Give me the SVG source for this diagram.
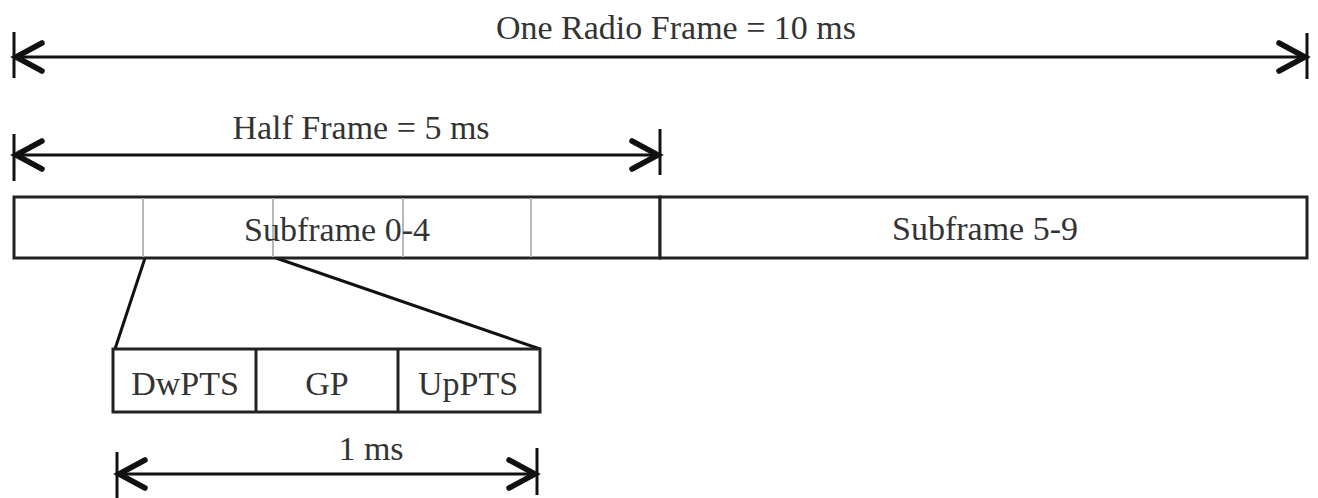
<svg xmlns="http://www.w3.org/2000/svg" width="1318" height="498" viewBox="0 0 1318 498">
<defs>
<marker id="chev" markerUnits="userSpaceOnUse" viewBox="-34 -20 40 40" refX="0" refY="0" markerWidth="40" markerHeight="40" orient="auto-start-reverse" overflow="visible">
<path d="M -27 -14 L -1 0 L -27 14" fill="none" stroke="#111" stroke-width="5.5" stroke-linecap="round" stroke-linejoin="miter"/>
</marker>
<style>
.t{font-family:"Liberation Serif","Times New Roman",serif;font-size:34px;fill:#333;text-anchor:middle}
.box{fill:#fff;stroke:#222;stroke-width:3}
.div{stroke:#222;stroke-width:3}
.grey{stroke:#b8b8b8;stroke-width:2}
.dim{stroke:#111;stroke-width:3;fill:none}
.tick{stroke:#111;stroke-width:3}
</style>
</defs>
<rect width="1318" height="498" fill="#fff"/>
<g id="connectors">
<line class="dim" x1="15" y1="57" x2="1306" y2="57" marker-start="url(#chev)" marker-end="url(#chev)"/>
<line class="tick" x1="14" y1="32" x2="14" y2="78"/>
<line class="tick" x1="1307" y1="33" x2="1307" y2="79"/>
<line class="dim" x1="15" y1="155" x2="659" y2="155" marker-start="url(#chev)" marker-end="url(#chev)"/>
<line class="tick" x1="14" y1="134" x2="14" y2="181"/>
<line class="tick" x1="660" y1="129" x2="660" y2="175"/>
<line class="dim" x1="118" y1="474" x2="536" y2="474" marker-start="url(#chev)" marker-end="url(#chev)"/>
<line class="tick" x1="117" y1="452" x2="117" y2="498"/>
<line class="tick" x1="537" y1="448" x2="537" y2="495"/>
<line class="dim" x1="145" y1="258" x2="115" y2="349"/>
<line class="dim" x1="276" y1="258" x2="540" y2="349"/>
</g>
<g id="label-radio"><text class="t" x="676" y="39">One Radio Frame = 10 ms</text></g>
<g id="label-half"><text class="t" x="361" y="139">Half Frame = 5 ms</text></g>
<g id="label-1ms"><text class="t" x="371" y="460">1 ms</text></g>
<g id="subframe-0-4">
<rect class="box" x="14" y="197" width="646" height="61"/>
<line class="grey" x1="143" y1="198" x2="143" y2="257"/>
<line class="grey" x1="273" y1="198" x2="273" y2="257"/>
<line class="grey" x1="403" y1="198" x2="403" y2="257"/>
<line class="grey" x1="531" y1="198" x2="531" y2="257"/>
<text class="t" x="337" y="241">Subframe 0-4</text>
</g>
<g id="subframe-5-9">
<rect class="box" x="660" y="197" width="647" height="61"/>
<text class="t" x="985" y="240">Subframe 5-9</text>
</g>
<g id="special-subframe">
<rect class="box" x="113" y="349" width="427" height="63"/>
<line class="div" x1="256" y1="349" x2="256" y2="412"/>
<line class="div" x1="398" y1="349" x2="398" y2="412"/>
<text class="t" x="185" y="395">DwPTS</text>
<text class="t" x="327" y="395">GP</text>
<text class="t" x="468" y="395">UpPTS</text>
</g>
</svg>
